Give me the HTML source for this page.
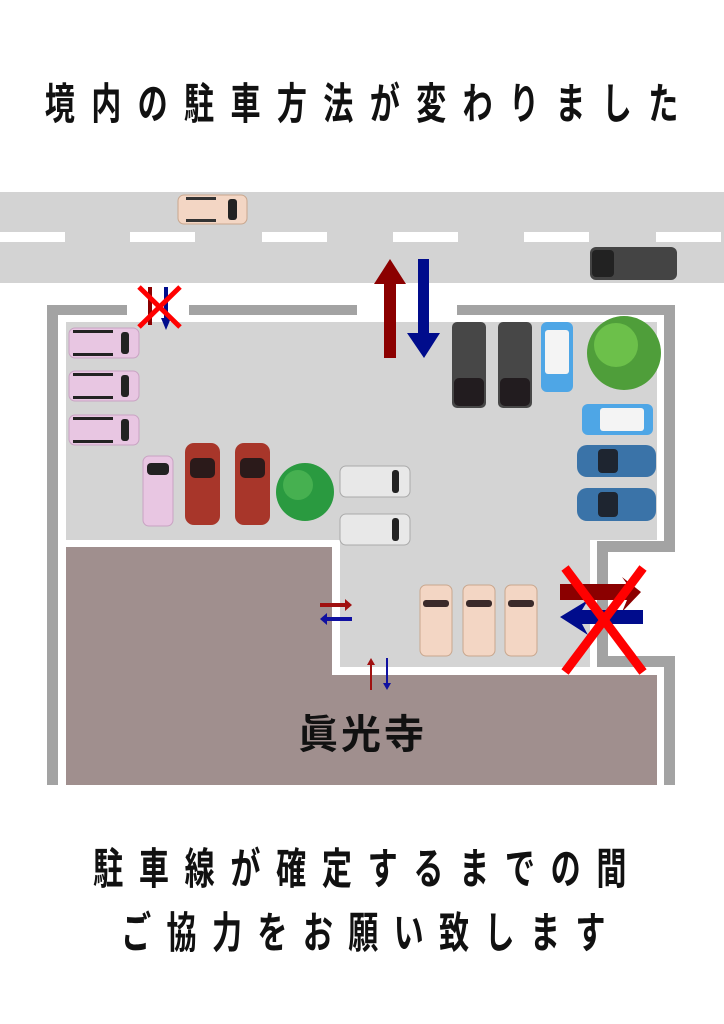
<!DOCTYPE html>
<html><head><meta charset="utf-8"><style>
html,body{margin:0;padding:0;background:#fff;}
svg{display:block;}
text{font-family:"Liberation Sans","Noto Sans CJK JP",sans-serif;fill:#111;font-weight:700;}
</style></head><body>
<svg width="724" height="1024" viewBox="0 0 724 1024" xmlns="http://www.w3.org/2000/svg">
<rect width="724" height="1024" fill="#fff"/>
<!-- title -->
<g transform="scale(0.7,1)">
<text x="64" y="119" font-size="43" textLength="905" lengthAdjust="spacing">境内の駐車方法が変わりました</text>
<text x="133" y="884" font-size="43" textLength="762" lengthAdjust="spacing">駐車線が確定するまでの間</text>
<text x="173" y="948" font-size="43" textLength="692" lengthAdjust="spacing">ご協力をお願い致します</text>
</g>
<!-- road -->
<rect x="0" y="192" width="724" height="91" fill="#d3d3d3"/>
<g fill="#fff">
<rect x="0" y="232" width="65" height="10"/><rect x="130" y="232" width="65" height="10"/>
<rect x="262" y="232" width="65" height="10"/><rect x="393" y="232" width="65" height="10"/>
<rect x="524" y="232" width="65" height="10"/><rect x="656" y="232" width="65" height="10"/>
</g>
<!-- walls -->
<g fill="#a3a3a3">
<rect x="47" y="305" width="80" height="10"/>
<rect x="189" y="305" width="168" height="10"/>
<rect x="457" y="305" width="218" height="10"/>
<rect x="47" y="305" width="11" height="480"/>
<rect x="664" y="305" width="11" height="247"/>
<rect x="597" y="541" width="78" height="11"/>
<rect x="597" y="541" width="11" height="126"/>
<rect x="597" y="656" width="78" height="11"/>
<rect x="664" y="656" width="11" height="129"/>
</g>
<!-- lot -->
<rect x="66" y="322" width="591" height="218" fill="#d4d4d4"/>
<rect x="340" y="530" width="250" height="137" fill="#d4d4d4"/>
<rect x="580" y="530" width="10" height="137" fill="#d4d4d4"/>
<!-- building -->
<rect x="66" y="547" width="266" height="238" fill="#a08f8e"/>
<rect x="66" y="675" width="591" height="110" fill="#a08f8e"/>
<text x="298" y="748" font-size="40" textLength="126" lengthAdjust="spacing" font-weight="400">眞光寺</text>

<!-- road beige -->
<g><rect x="178" y="195" width="69" height="29" rx="6" fill="#f3d6c4" stroke="#c9a78e"/><rect x="228" y="199" width="9" height="21" rx="3" fill="#222"/><rect x="186" y="197" width="30" height="3" fill="#333"/><rect x="186" y="219" width="30" height="3" fill="#333"/></g>
<!-- dark road car -->
<g><rect x="590" y="247" width="87" height="33" rx="6" fill="#444"/><rect x="592" y="250" width="22" height="27" rx="4" fill="#222"/></g>
<!-- pink horizontal -->
<g fill="#e8c6e2" stroke="#c9a3c3">
<rect x="69" y="328" width="70" height="30" rx="6"/><rect x="69" y="371" width="70" height="30" rx="6"/><rect x="69" y="415" width="70" height="30" rx="6"/></g>
<g fill="#222"><rect x="121" y="332" width="8" height="22" rx="3"/><rect x="121" y="375" width="8" height="22" rx="3"/><rect x="121" y="419" width="8" height="22" rx="3"/>
<rect x="73" y="330" width="40" height="3"/><rect x="73" y="353" width="40" height="3"/><rect x="73" y="373" width="40" height="3"/><rect x="73" y="396" width="40" height="3"/><rect x="73" y="417" width="40" height="3"/><rect x="73" y="440" width="40" height="3"/></g>
<!-- pink vertical -->
<rect x="143" y="456" width="30" height="70" rx="6" fill="#e8c6e2" stroke="#c9a3c3"/><rect x="147" y="463" width="22" height="12" rx="4" fill="#222"/>
<!-- red -->
<g fill="#a8362a"><rect x="185" y="443" width="35" height="82" rx="9"/><rect x="235" y="443" width="35" height="82" rx="9"/></g>
<g fill="#2b1a1a"><rect x="190" y="458" width="25" height="20" rx="5"/><rect x="240" y="458" width="25" height="20" rx="5"/></g>
<!-- tree small -->
<circle cx="305" cy="492" r="29" fill="#2a9a40"/><circle cx="298" cy="485" r="15" fill="#46b050"/>
<!-- gray cars -->
<g fill="#e8e8e8" stroke="#aaa"><rect x="340" y="466" width="70" height="31" rx="6"/><rect x="340" y="514" width="70" height="31" rx="6"/></g>
<g fill="#222"><rect x="392" y="470" width="7" height="23" rx="3"/><rect x="392" y="518" width="7" height="23" rx="3"/></g>
<!-- black vans -->
<g fill="#474747"><rect x="452" y="322" width="34" height="86" rx="5"/><rect x="498" y="322" width="34" height="86" rx="5"/></g>
<g fill="#221c1f"><rect x="454" y="378" width="30" height="28" rx="5"/><rect x="500" y="378" width="30" height="28" rx="5"/></g>
<!-- light blue vertical -->
<rect x="541" y="322" width="32" height="70" rx="6" fill="#4ea6e6"/><rect x="545" y="330" width="24" height="44" rx="3" fill="#f4f4f4"/>
<!-- big tree -->
<circle cx="624" cy="353" r="37" fill="#4f9e3a"/><circle cx="616" cy="345" r="22" fill="#6cc04a"/>
<!-- light blue horizontal -->
<rect x="582" y="404" width="71" height="31" rx="6" fill="#4ea6e6"/><rect x="600" y="408" width="44" height="23" rx="3" fill="#f4f4f4"/>
<!-- blue -->
<g fill="#3a73a8"><rect x="577" y="445" width="79" height="32" rx="10"/><rect x="577" y="488" width="79" height="33" rx="10"/></g>
<g fill="#1e2530"><rect x="598" y="449" width="20" height="24" rx="4"/><rect x="598" y="492" width="20" height="25" rx="4"/></g>
<!-- beige vertical -->
<g fill="#f3d6c4" stroke="#c9a78e"><rect x="420" y="585" width="32" height="71" rx="6"/><rect x="463" y="585" width="32" height="71" rx="6"/><rect x="505" y="585" width="32" height="71" rx="6"/></g>
<g fill="#3a2a2a"><rect x="423" y="600" width="26" height="7" rx="3"/><rect x="466" y="600" width="26" height="7" rx="3"/><rect x="508" y="600" width="26" height="7" rx="3"/></g>

<!-- main arrows -->
<polygon points="384,358 384,284 374,284 390,259 406,284 396,284 396,358" fill="#8b0000"/>
<polygon points="418,259 429,259 429,333 440,333 424,358 407,333 418,333" fill="#000c8c"/>
<!-- small top-left X -->
<rect x="148" y="287" width="4" height="38" fill="#8b0000"/>
<polygon points="164,287 168,287 168,318 171,318 166,330 161,318 164,318" fill="#000c8c"/>
<g stroke="#ff0000" stroke-width="5"><line x1="139" y1="287" x2="180" y2="327"/><line x1="180" y1="287" x2="139" y2="327"/></g>
<!-- middle small arrows -->
<polygon points="320,603 345,603 345,599 352,605 345,611 345,607 320,607" fill="#a01010"/>
<polygon points="352,617 327,617 327,613 320,619 327,625 327,621 352,621" fill="#1010a0"/>
<polygon points="370,690 370,665 367,665 371,658 375,665 372,665 372,690" fill="#a01010"/>
<polygon points="386,658 388,658 388,683 391,683 387,690 383,683 386,683" fill="#1010a0"/>
<!-- right X -->
<polygon points="560,584 627,584 622,577 641,592 622,612 627,600 560,600" fill="#8b0000"/>
<polygon points="643,610 582,610 588,600 560,617 588,635 582,624 643,624" fill="#000c8c"/>
<g stroke="#ff0000" stroke-width="9"><line x1="565" y1="568" x2="643" y2="672"/><line x1="643" y1="568" x2="565" y2="672"/></g>
</svg>
</body></html>
